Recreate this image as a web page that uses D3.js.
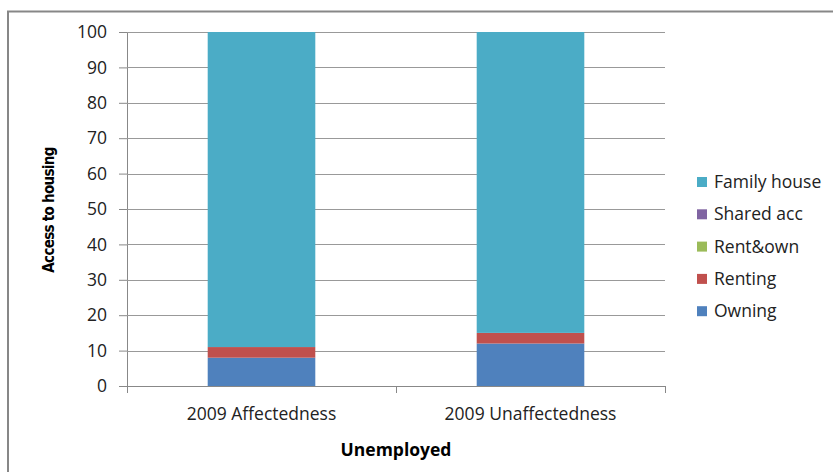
<!DOCTYPE html>
<html>
<head>
<meta charset="utf-8">
<script src="https://cdn.jsdelivr.net/npm/d3@7"></script>
<style>
  html, body { margin: 0; padding: 0; background: #fff; }
  svg { display: block; }
</style>
</head>
<body>
<svg id="chart" width="833" height="472"></svg>
<script>
// Housing access shares (%) for unemployed respondents
const categories = ["2009 Affectedness", "2009 Unaffectedness"];
const seriesNames = ["Owning", "Renting", "Rent&own", "Shared acc", "Family house"];
const owning      = [8, 12];
const renting     = [3, 3];
const rentOwn     = [0, 0];
const sharedAcc   = [0, 0];
const familyHouse = [89, 85];
const yTicks = [0, 10, 20, 30, 40, 50, 60, 70, 80, 90, 100];
const colors = ["#4F81BD", "#C0504D", "#9BBB59", "#8064A2", "#4BACC6"];

const seriesValues = [owning, renting, rentOwn, sharedAcc, familyHouse];
const rows = categories.map((c, i) => {
  const r = { category: c };
  seriesNames.forEach((s, k) => { r[s] = seriesValues[k][i]; });
  return r;
});

const svg = d3.select("#chart");
const font = "'Open Sans', 'DejaVu Sans', sans-serif";

// outer chart frame
svg.append("rect")
  .attr("x", 8).attr("y", 11.5)
  .attr("width", 840).attr("height", 480)
  .attr("fill", "none").attr("stroke", "#878787").attr("stroke-width", 2);

const plot = { left: 127, right: 665, top: 32, bottom: 386 };

const x = d3.scaleBand().domain(categories).range([plot.left, plot.right]).paddingInner(0.6).paddingOuter(0.3);
const y = d3.scaleLinear().domain([0, 100]).range([plot.bottom, plot.top]);

// gridlines + y axis
const yAxis = d3.axisLeft(y).tickValues(yTicks).tickSize(8).tickPadding(12);
const gy = svg.append("g").attr("transform", `translate(${plot.left},0)`).call(yAxis);
gy.select(".domain").attr("stroke", "#888");
gy.selectAll(".tick line").attr("stroke", "#888");
gy.selectAll(".tick text").attr("font-family", font).attr("font-size", 17.5).attr("fill", "#222");

svg.append("g").selectAll("line").data(yTicks.filter(d => d > 0)).join("line")
  .attr("x1", plot.left).attr("x2", plot.right)
  .attr("y1", d => Math.round(y(d)) + 0.5).attr("y2", d => Math.round(y(d)) + 0.5)
  .attr("stroke", "#999").attr("stroke-width", 1);

// stacked bars
const stack = d3.stack().keys(seriesNames)(rows);
svg.append("g").selectAll("g").data(stack).join("g")
  .attr("fill", (d, i) => colors[i])
  .selectAll("rect").data(d => d).join("rect")
  .attr("x", d => x(d.data.category))
  .attr("width", x.bandwidth())
  .attr("y", d => y(d[1]))
  .attr("height", d => y(d[0]) - y(d[1]));

// x axis with boundary ticks between categories
const xLine = d3.scaleLinear().domain([0, categories.length]).range([plot.left, plot.right]);
const gx = svg.append("g").attr("transform", `translate(0,${plot.bottom})`)
  .call(d3.axisBottom(xLine).tickValues(d3.range(categories.length + 1)).tickSize(7).tickFormat(""));
gx.select(".domain").attr("stroke", "#888");
gx.selectAll(".tick line").attr("stroke", "#888");

svg.append("g").selectAll("text").data(categories).join("text")
  .attr("x", d => x(d) + x.bandwidth() / 2)
  .attr("y", 420)
  .attr("text-anchor", "middle")
  .attr("font-family", font).attr("font-size", 17.5).attr("fill", "#222")
  .text(d => d);

// axis titles
svg.append("text")
  .attr("x", (plot.left + plot.right) / 2).attr("y", 456)
  .attr("text-anchor", "middle")
  .attr("font-family", font).attr("font-size", 17.5).attr("font-weight", "bold")
  .text("Unemployed");

svg.append("text")
  .attr("transform", "translate(54,210) rotate(-90)")
  .attr("text-anchor", "middle")
  .attr("font-family", "'DejaVu Sans Condensed', 'Liberation Sans Narrow', sans-serif")
  .attr("font-size", 15).attr("font-weight", "bold").attr("letter-spacing", -0.7)
  .text("Access to housing");

// legend, listed top-down in reverse stacking order
const legendItems = seriesNames.map((s, i) => ({ name: s, color: colors[i] })).reverse();
const lg = svg.append("g").selectAll("g").data(legendItems).join("g")
  .attr("transform", (d, i) => `translate(697,${182 + i * 32.3})`);
lg.append("rect").attr("x", 0).attr("y", -5).attr("width", 10).attr("height", 10).attr("fill", d => d.color);
lg.append("text").attr("x", 17).attr("y", 6)
  .attr("font-family", font).attr("font-size", 17.5).attr("fill", "#222")
  .text(d => d.name);
</script>
</body>
</html>
